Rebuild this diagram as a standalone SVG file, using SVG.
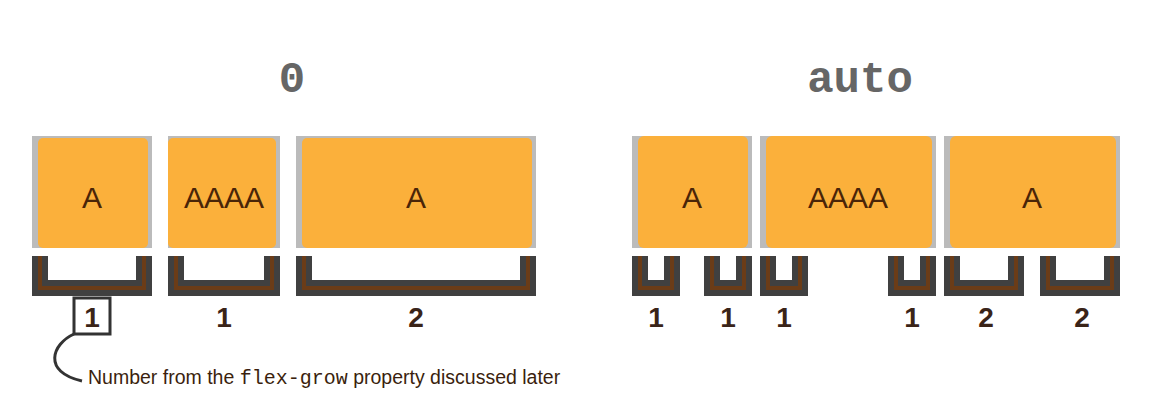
<svg xmlns="http://www.w3.org/2000/svg" width="1168" height="408" viewBox="0 0 1168 408">
<defs>
<style>
.title{font-family:"Liberation Mono","DejaVu Sans Mono",monospace;font-size:44px;font-weight:bold;fill:#666666;text-anchor:middle}
.edge{fill:#bbbbbb}
.fill{fill:#fbb03b}
.itext{font-family:"Liberation Sans",Arial,sans-serif;font-size:30px;fill:#4a2508;text-anchor:middle}
.bk{fill:none;stroke:#404040;stroke-width:16;stroke-linejoin:miter}
.bb{fill:none;stroke:#6b3c17;stroke-width:4;stroke-linejoin:miter}
.num{font-family:"Liberation Sans",Arial,sans-serif;font-size:28px;font-weight:bold;fill:#3a2418;text-anchor:middle}
.cap{font-family:"Liberation Sans",Arial,sans-serif;font-size:19.5px;fill:#3b1f0e}
.code{font-family:"Liberation Mono","DejaVu Sans Mono",monospace;font-size:20px}
</style>
</defs>
<rect width="1168" height="408" fill="#ffffff"/>
<g id="title-left"><text class="title" x="292" y="92">0</text></g>
<g id="title-right"><text class="title" x="860" y="92">auto</text></g>

<g id="left-item-1"><rect class="edge" x="32" y="136" width="120" height="112"/><rect class="fill" x="38" y="138" width="110" height="110" rx="5"/><text class="itext" x="92" y="208">A</text></g>
<g id="left-item-2"><rect class="edge" x="168" y="136" width="112" height="112"/><rect class="fill" x="168" y="138" width="108" height="110" rx="5"/><text class="itext" x="224" y="208">AAAA</text></g>
<g id="left-item-3"><rect class="edge" x="296" y="136" width="240" height="112"/><rect class="fill" x="302" y="138" width="230" height="110" rx="5"/><text class="itext" x="416" y="208">A</text></g>

<g id="right-item-1"><rect class="edge" x="632" y="136" width="120" height="112"/><rect class="fill" x="638" y="136" width="110" height="112" rx="6"/><text class="itext" x="692" y="208">A</text></g>
<g id="right-item-2"><rect class="edge" x="760" y="136" width="176" height="112"/><rect class="fill" x="766" y="136" width="166" height="112" rx="6"/><text class="itext" x="848" y="208">AAAA</text></g>
<g id="right-item-3"><rect class="edge" x="944" y="136" width="176" height="112"/><rect class="fill" x="950" y="136" width="166" height="112" rx="6"/><text class="itext" x="1032" y="208">A</text></g>

<g id="brackets">
<path class="bk" d="M40 256V288H144V256"/><path class="bb" d="M40 256V288H144V256"/>
<path class="bk" d="M176 256V288H272V256"/><path class="bb" d="M176 256V288H272V256"/>
<path class="bk" d="M304 256V288H528V256"/><path class="bb" d="M304 256V288H528V256"/>
<path class="bk" d="M640 256V288H672V256"/><path class="bb" d="M640 256V288H672V256"/>
<path class="bk" d="M712 256V288H744V256"/><path class="bb" d="M712 256V288H744V256"/>
<path class="bk" d="M768 256V288H800V256"/><path class="bb" d="M768 256V288H800V256"/>
<path class="bk" d="M896 256V288H928V256"/><path class="bb" d="M896 256V288H928V256"/>
<path class="bk" d="M952 256V288H1016V256"/><path class="bb" d="M952 256V288H1016V256"/>
<path class="bk" d="M1048 256V288H1112V256"/><path class="bb" d="M1048 256V288H1112V256"/>
</g>

<g id="labels">
<text class="num" x="92" y="327">1</text>
<text class="num" x="224" y="327">1</text>
<text class="num" x="416" y="327">2</text>
<text class="num" x="656" y="327">1</text>
<text class="num" x="728" y="327">1</text>
<text class="num" x="784" y="327">1</text>
<text class="num" x="912" y="327">1</text>
<text class="num" x="986" y="327">2</text>
<text class="num" x="1082" y="327">2</text>
</g>

<g id="highlight"><rect x="74" y="298" width="36" height="36" fill="none" stroke="#333333" stroke-width="3"/></g>

<g id="connectors">
<path d="M74 334C52 344 42 372 82 381" fill="none" stroke="#333333" stroke-width="3"/>
</g>

<g id="caption"><text class="cap" x="88" y="384">Number from the <tspan class="code">flex-grow</tspan> property discussed later</text></g>
</svg>
